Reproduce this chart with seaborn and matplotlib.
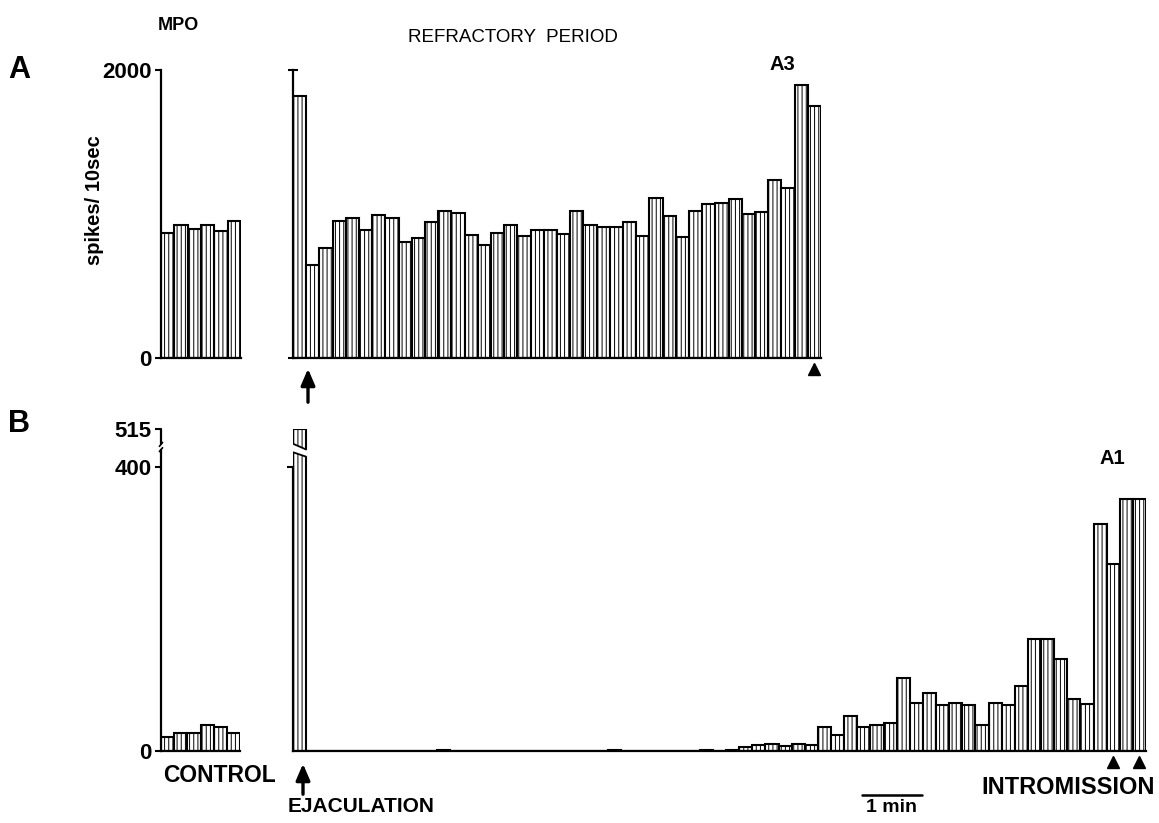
import numpy as np
import matplotlib
matplotlib.use("Agg")
import matplotlib.pyplot as plt
import seaborn as sns
from matplotlib.transforms import blended_transform_factory
from matplotlib.patches import Polygon, FancyArrowPatch
from matplotlib.lines import Line2D

# ---------------- data (spikes / 10 sec) ----------------
a_control = [866, 926, 896, 926, 884, 949]
a_refractory = [1817, 643, 766, 951, 974, 886, 995, 974, 805, 831,
                942, 1021, 1009, 851, 784, 870, 926, 847, 886, 886,
                861, 1021, 923, 907, 907, 947, 847, 1114, 984, 838,
                1021, 1072, 1074, 1102, 1000, 1014, 1239, 1183, 1893, 1752]
b_control = [20, 26, 26, 37, 34, 25]
b_refractory = [515, 0, 0, 0, 0, 0, 0, 0, 0, 0,
                0, 1, 0, 0, 0, 0, 0, 0, 0, 0,
                0, 0, 0, 0, 1, 0, 0, 0, 0, 0,
                0, 1, 0, 2, 5, 8, 10, 7, 10, 9,
                34, 23, 49, 34, 37, 40, 103, 68, 81, 65,
                68, 65, 37, 68, 65, 92, 158, 158, 129, 73,
                66, 319, 263, 354, 354]
a_ticks = [0, 2000]
b_ticks = [0, 400, 515]
a_intromission = [39]
b_intromission = [62, 64]

# ---------------- style ----------------
sns.set_style("white")
plt.rcParams["font.family"] = ["Liberation Sans", "DejaVu Sans"]
plt.rcParams["hatch.linewidth"] = 0.7
plt.rcParams["hatch.color"] = "black"
for key in ("text.color", "axes.labelcolor", "xtick.color", "ytick.color", "axes.edgecolor"):
    plt.rcParams[key] = "black"

W, H = 1159, 823
fig = plt.figure(figsize=(W / 100, H / 100), dpi=100)
fig.patch.set_facecolor("white")


def rect(x0, y_top, x1, y_bot):
    return [x0 / W, 1 - y_bot / H, (x1 - x0) / W, (y_bot - y_top) / H]


def fx(x):
    return x / W


def fy(y):
    return 1 - y / H


K = 0.461  # compression above the axis break (panel B)


def fwd(v):
    v = np.asarray(v, dtype=float)
    return np.where(v <= 400, v, 400 + (v - 400) * K)


def inv(d):
    d = np.asarray(d, dtype=float)
    return np.where(d <= 400, d, 400 + (d - 400) / K)


def bars(ax, vals):
    sns.barplot(x=list(range(len(vals))), y=vals, ax=ax, color="white",
                edgecolor="black", linewidth=1.5, width=1.0, saturation=1)
    for p in ax.patches:
        p.set_hatch("||||")
    ax.set_xlim(-0.5, len(vals) - 0.5)
    ax.set_xlabel("")
    ax.set_ylabel("")
    ax.set_xticks([])
    for s in ["top", "right"]:
        ax.spines[s].set_visible(False)
    ax.spines["left"].set_linewidth(1.6)
    ax.spines["bottom"].set_linewidth(1.6)
    ax.patch.set_alpha(0)


axA_c = fig.add_axes(rect(161, 70, 241, 358))
axA_r = fig.add_axes(rect(293, 70, 821, 358))
axB_c = fig.add_axes(rect(161, 429, 240, 751))
axB_r = fig.add_axes(rect(293, 429, 1146, 751))

bars(axA_c, a_control)
bars(axA_r, a_refractory)
bars(axB_c, b_control)
bars(axB_r, b_refractory)

for ax in (axA_c, axA_r):
    ax.set_ylim(0, 2000)
    ax.set_yticks(a_ticks)
for ax in (axB_c, axB_r):
    ax.set_yscale("function", functions=(fwd, inv))
    ax.set_ylim(0, 515)

TICKFONT = 16
axA_c.set_yticklabels([str(t) for t in a_ticks], fontweight="bold", fontsize=TICKFONT)
axA_c.tick_params(axis="y", direction="out", length=4, width=1.5, pad=3, left=True)
axA_r.set_yticklabels([])
axA_r.tick_params(axis="y", direction="inout", length=7, width=1.5, left=True)

axB_c.set_yticks(b_ticks)
axB_c.set_yticklabels([str(t) for t in b_ticks], fontweight="bold", fontsize=TICKFONT)
axB_c.tick_params(axis="y", direction="out", length=4, width=1.5, pad=3, left=True)
axB_c.yaxis.set_minor_locator(matplotlib.ticker.NullLocator())
axB_c.spines["left"].set_bounds(0, 452)
axB_c.plot([-0.5, -0.5], [468, 515], color="black", lw=1.6, clip_on=False)
for yy in (452, 468):
    axB_c.plot([-0.62, -0.38], [yy - 6, yy + 6], color="black", lw=1.2, clip_on=False)

axB_r.set_yticks([400])
axB_r.set_yticklabels([])
axB_r.yaxis.set_minor_locator(matplotlib.ticker.NullLocator())
axB_r.tick_params(axis="y", direction="out", length=4, width=1.5, left=True)
axB_r.spines["left"].set_bounds(0, 400)

# break of the ejaculation bar in panel B
gap = Polygon([(-0.6, 445), (0.6, 429), (0.6, 451), (-0.6, 472)], closed=True,
              facecolor="white", edgecolor="none", zorder=5, clip_on=False)
axB_r.add_patch(gap)
axB_r.plot([-0.5, 0.5], [444, 430.5], color="black", lw=1.3, zorder=6)
axB_r.plot([-0.5, 0.5], [470, 452.5], color="black", lw=1.3, zorder=6)

# intromission markers
for ax, idx, yfrac in ((axA_r, a_intromission, -0.038), (axB_r, b_intromission, -0.034)):
    tr = blended_transform_factory(ax.transData, ax.transAxes)
    ax.plot(idx, [yfrac] * len(idx), transform=tr, marker="^", ms=8,
            color="black", ls="none", clip_on=False)

# ejaculation arrows
for (x, y0, y1) in ((308, 405, 366), (303, 797, 761)):
    arr = FancyArrowPatch((fx(x), fy(y0)), (fx(x), fy(y1)), transform=fig.transFigure,
                          arrowstyle="-|>,head_length=0.7,head_width=0.3",
                          mutation_scale=14, lw=2.4, color="black")
    fig.add_artist(arr)

# 1 min scale bar
fig.add_artist(Line2D([fx(862), fx(922)], [fy(795), fy(795)], color="black", lw=1.8,
                      transform=fig.transFigure))

# texts
def ft(x, y, s, **kw):
    fig.text(fx(x), fy(y), s, **kw)

ft(8, 70, "A", fontsize=22, fontweight="bold", ha="left", va="center")
ft(8, 424, "B", fontsize=22, fontweight="bold", ha="left", va="center")
ft(178, 25, "MPO", fontsize=13, fontweight="bold", ha="center", va="center")
ft(513, 37, "REFRACTORY  PERIOD", fontsize=13.5, ha="center", va="center")
ft(782, 64, "A3", fontsize=14.5, fontweight="bold", ha="center", va="center")
ft(1112, 459, "A1", fontsize=14.5, fontweight="bold", ha="center", va="center")
ft(95, 200, "spikes/ 10sec", fontsize=14.5, fontweight="bold", rotation=90,
   ha="center", va="center")
ft(219, 776, "CONTROL", fontsize=16.5, fontweight="bold", ha="center", va="center")
ft(288, 806, "EJACULATION", fontsize=15, fontweight="bold", ha="left", va="center")
ft(1155, 787, "INTROMISSION", fontsize=17, fontweight="bold", ha="right", va="center")
ft(866, 808, "1 min", fontsize=14, fontweight="bold", ha="left", va="center")

fig.savefig("out.png", dpi=100, facecolor="white")
